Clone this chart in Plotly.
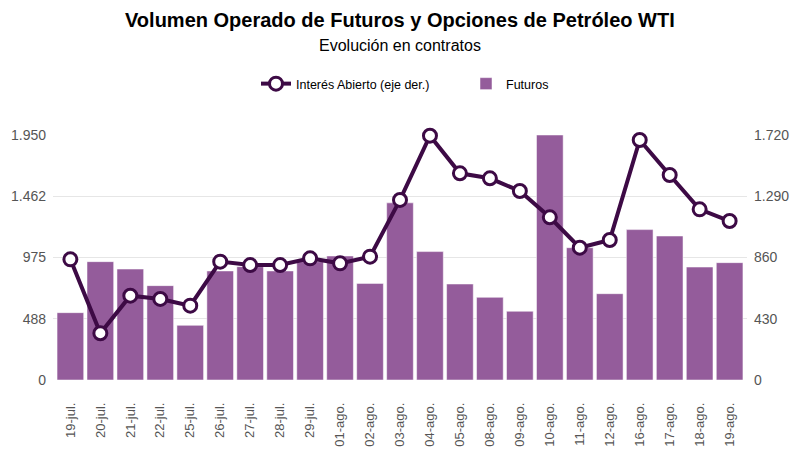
import plotly.graph_objects as go

# fechas (eje x)
fechas = ["19-jul.", "20-jul.", "21-jul.", "22-jul.", "25-jul.", "26-jul.", "27-jul.",
          "28-jul.", "29-jul.", "01-ago.", "02-ago.", "03-ago.", "04-ago.", "05-ago.",
          "08-ago.", "09-ago.", "10-ago.", "11-ago.", "12-ago.", "16-ago.", "17-ago.",
          "18-ago.", "19-ago."]

# volumen de futuros (eje izq.)
futuros = [536, 942, 883, 751, 435, 868, 902, 868, 942, 987, 769, 1410, 1022, 764,
           658, 547, 1950, 1053, 687, 1197, 1146, 899, 934]

# interes abierto (eje der.)
interes_abierto = [847, 328, 592, 569, 522, 831, 807, 807, 854, 819, 866, 1264, 1715,
                   1451, 1416, 1327, 1142, 929, 983, 1685, 1439, 1198, 1116]

ticks_izq = [0, 487.5, 975, 1462.5, 1950]
ticks_izq_txt = ["0", "488", "975", "1.462", "1.950"]
ticks_der = [0, 430, 860, 1290, 1720]
ticks_der_txt = ["0", "430", "860", "1.290", "1.720"]

titulo = "Volumen Operado de Futuros y Opciones de Petróleo WTI"
subtitulo = "Evolución en contratos"

W, H = 800, 457
# la pagina deja 8px de margen en el body, se compensa aqui
OFF = 8
ML, MR = 53 - OFF, 53 + OFF
MT, MB = 135 - OFF, 77 + OFF
alto_plot = H - MT - MB
ancho_plot = W - ML - MR


def y_paper(py):
    # pixel de la pagina (desde arriba) -> coordenada paper
    return (H - MB - (py - OFF)) / alto_plot


def x_paper(px):
    return (px - OFF - ML) / ancho_plot


fig = go.Figure()

fig.add_trace(go.Bar(
    x=fechas, y=futuros, name="Futuros",
    marker=dict(color="#945C9B", line=dict(color="white", width=0.5)),
))

fig.add_trace(go.Scatter(
    x=fechas, y=interes_abierto, name="Interés Abierto (eje der.)", yaxis="y2",
    mode="lines+markers", cliponaxis=False,
    line=dict(color="#3D0A45", width=4),
    marker=dict(size=13, color="white", line=dict(color="#3D0A45", width=3)),
))

fig.update_layout(
    width=W, height=H,
    margin=dict(l=ML, r=MR, t=MT, b=MB, autoexpand=False),
    paper_bgcolor="white", plot_bgcolor="white",
    font=dict(family="Liberation Sans, Arial, sans-serif", color="#555555"),
    annotations=[
        dict(text="<b>" + titulo + "</b>", x=0.5, y=y_paper(20), xref="paper", yref="paper",
             xanchor="center", yanchor="middle", showarrow=False,
             font=dict(size=20, color="black")),
        dict(text=subtitulo, x=0.5, y=y_paper(45), xref="paper", yref="paper",
             xanchor="center", yanchor="middle", showarrow=False,
             font=dict(size=16, color="black")),
    ],
    legend=dict(
        orientation="h", x=x_paper(256), xanchor="left", y=y_paper(84),
        yanchor="middle", font=dict(size=12.5, color="black"), traceorder="reversed",
        entrywidth=165,
    ),
    bargap=0.11,
    xaxis=dict(
        range=[-0.58, len(fechas) - 0.42], tickangle=-90, automargin=False,
        tickfont=dict(size=13, color="#555555"), showgrid=False,
        ticks="", showline=False, ticklabelstandoff=19,
    ),
    yaxis=dict(
        range=[0, 1950], tickvals=ticks_izq, ticktext=ticks_izq_txt, automargin=False,
        gridcolor="#E6E6E6", gridwidth=1, zeroline=False,
        tickfont=dict(size=14, color="#555555"), ticks="", ticklabelstandoff=6,
    ),
    yaxis2=dict(
        range=[0, 1720], tickvals=ticks_der, ticktext=ticks_der_txt, automargin=False,
        overlaying="y", side="right", showgrid=False, zeroline=False,
        tickfont=dict(size=14, color="#555555"), ticks="", ticklabelstandoff=6,
    ),
)

fig.write_html("out.html")
